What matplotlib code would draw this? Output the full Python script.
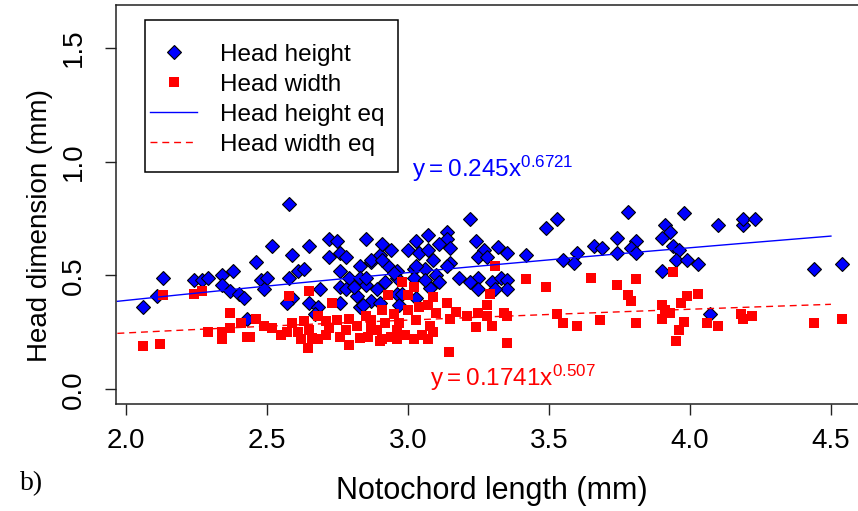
import numpy as np
import matplotlib
matplotlib.use("Agg")
import matplotlib.pyplot as plt
from matplotlib.lines import Line2D
from matplotlib.patches import Rectangle

plt.rcParams['font.family'] = ['Liberation Sans', 'DejaVu Sans']
plt.rcParams['mathtext.default'] = 'regular'

# --- data ----------------------------------------------------------------
# head height (blue diamonds)
hh_x = [2.38, 2.13, 2.24, 2.27, 2.29, 2.34, 2.34, 2.37, 2.40, 2.42, 2.11, 2.06, 2.43,
        2.58, 2.52, 2.59, 2.65, 2.72, 2.75, 2.85, 2.46, 2.48, 2.50, 2.49, 2.58, 2.61,
        2.63, 2.72, 2.76, 2.78, 2.83, 2.87, 2.90, 2.76, 2.79, 2.83, 2.76, 2.78, 2.82,
        2.85, 2.89, 2.87, 2.90, 2.69, 2.65, 2.68, 2.59, 2.57, 2.76, 2.83, 2.67, 2.87,
        2.85, 2.81, 2.84,
        3.22, 3.07, 3.14, 3.14, 3.11, 3.03, 2.94, 2.91, 3.00, 3.04, 3.07, 3.15, 3.09,
        3.15, 3.24, 3.27, 3.32, 3.35, 3.25, 3.28, 3.18, 3.25, 3.22, 3.25, 3.30, 3.33,
        3.35, 3.35, 3.31, 2.93, 2.96, 3.02, 3.06, 3.10, 3.11, 2.92, 2.96, 2.96, 3.03,
        3.08, 2.97, 2.91, 2.95, 3.02, 3.06, 3.03, 3.14, 2.98,
        3.49, 3.53, 3.42, 3.60, 3.55, 3.59,
        3.78, 3.98, 4.10, 4.19, 4.19, 4.23, 3.91, 3.93, 3.90, 3.74, 3.81, 3.66, 3.69,
        3.79, 3.74, 3.81, 3.94, 3.96, 3.95, 3.99, 4.03, 3.90, 4.44, 4.54, 4.07]
hh_y = [0.52, 0.49, 0.48, 0.48, 0.49, 0.50, 0.46, 0.43, 0.42, 0.40, 0.41, 0.36, 0.31,
        0.815, 0.63, 0.59, 0.63, 0.66, 0.65, 0.66, 0.56, 0.48, 0.49, 0.44, 0.49, 0.52,
        0.53, 0.58, 0.60, 0.58, 0.54, 0.56, 0.59, 0.52, 0.49, 0.49, 0.45, 0.44, 0.41,
        0.46, 0.44, 0.39, 0.38, 0.44, 0.38, 0.36, 0.40, 0.38, 0.38, 0.36, 0.33, 0.57,
        0.49, 0.45, 0.37,
        0.75, 0.68, 0.69, 0.66, 0.64, 0.65, 0.61, 0.64, 0.61, 0.60, 0.61, 0.62, 0.57,
        0.555, 0.65, 0.61, 0.625, 0.60, 0.58, 0.58, 0.49, 0.49, 0.47, 0.44, 0.47, 0.49,
        0.48, 0.44, 0.44, 0.54, 0.52, 0.53, 0.53, 0.50, 0.47, 0.47, 0.49, 0.42, 0.40,
        0.445, 0.37, 0.57, 0.51, 0.49, 0.48, 0.54, 0.54, 0.42,
        0.71, 0.75, 0.59, 0.60, 0.57, 0.555,
        0.78, 0.775, 0.72, 0.72, 0.75, 0.75, 0.72, 0.69, 0.665, 0.665, 0.65, 0.63, 0.62,
        0.62, 0.60, 0.60, 0.63, 0.61, 0.57, 0.57, 0.55, 0.52, 0.53, 0.55, 0.33]

# head width (red squares)
hw_x = [2.13, 2.24, 2.27, 2.37, 2.41, 2.37, 2.34, 2.29, 2.34, 2.43, 2.06, 2.12,
        2.58, 2.65, 2.73, 2.68, 2.46, 2.49, 2.52, 2.44, 2.57, 2.59, 2.63, 2.65, 2.66,
        2.68, 2.645, 2.61, 2.72, 2.75, 2.78, 2.76, 2.82, 2.85, 2.87, 2.83, 2.90, 2.89,
        2.86, 2.71, 2.79, 2.62, 2.55, 2.71, 2.79, 2.87,
        2.91, 2.93, 2.92, 2.95, 2.94, 2.96, 2.98, 3.02, 3.00, 3.09, 3.31, 3.29, 3.00,
        3.04, 3.07, 3.14, 3.17, 3.10, 3.15, 2.97, 3.03, 3.08, 2.99, 3.05, 3.09, 2.91,
        2.96, 3.02, 3.07, 3.145, 3.25, 3.28, 3.24, 3.30, 3.34, 3.35, 3.35, 3.28, 3.21,
        3.42, 3.49, 3.65, 3.53, 3.55, 3.60, 3.68,
        3.94, 3.74, 3.81, 3.78, 3.79, 4.03, 3.99, 3.97, 3.90, 3.91, 3.93, 3.90, 3.98,
        3.96, 3.95, 3.81, 4.06, 4.10, 4.18, 4.19, 4.22, 4.44, 4.54]
hw_y = [0.415, 0.42, 0.43, 0.335, 0.29, 0.27, 0.25, 0.25, 0.22, 0.23, 0.19, 0.20,
        0.41, 0.43, 0.38, 0.32, 0.31, 0.28, 0.27, 0.23, 0.25, 0.29, 0.30, 0.26, 0.225,
        0.22, 0.18, 0.25, 0.27, 0.305, 0.26, 0.23, 0.28, 0.32, 0.27, 0.225, 0.21, 0.26,
        0.23, 0.24, 0.195, 0.22, 0.24, 0.30, 0.31, 0.305,
        0.35, 0.415, 0.29, 0.33, 0.23, 0.26, 0.47, 0.45, 0.415, 0.405, 0.54, 0.42, 0.35,
        0.36, 0.37, 0.38, 0.34, 0.335, 0.31, 0.29, 0.305, 0.28, 0.24, 0.24, 0.25, 0.22,
        0.22, 0.22, 0.22, 0.165, 0.335, 0.32, 0.275, 0.28, 0.335, 0.32, 0.205, 0.37, 0.32,
        0.485, 0.45, 0.49, 0.33, 0.29, 0.28, 0.305,
        0.515, 0.46, 0.485, 0.415, 0.39, 0.42, 0.41, 0.38, 0.37, 0.35, 0.335, 0.31, 0.295,
        0.26, 0.21, 0.29, 0.29, 0.28, 0.33, 0.31, 0.32, 0.29, 0.31]

# power-law fits shown on the chart
hh_a, hh_b = 0.245, 0.6721
hw_a, hw_b = 0.1741, 0.507
fit_x = np.linspace(1.97, 4.5, 200)

# --- figure ----------------------------------------------------------------
fig = plt.figure(figsize=(8.58, 5.11), dpi=100)
ax = fig.add_axes([0.135, 0.209, 0.865, 0.781])

ax.plot(hh_x, hh_y, 'D', ms=7.0, mfc='#0000FF', mec='black', mew=0.8, ls='none')
ax.plot(hw_x, hw_y, 's', ms=7.4, mfc='#FF0000', mec='#FF0000', mew=0, ls='none')
ax.plot(fit_x, hh_a * fit_x ** hh_b, color='#0000FF', lw=1.0)
ax.plot(fit_x, hw_a * fit_x ** hw_b, color='#FF0000', lw=1.0, dashes=(5, 3.5))

ax.set_xlim(1.9645, 4.596)
ax.set_ylim(-0.066, 1.689)
ax.set_xticks([2.0, 2.5, 3.0, 3.5, 4.0, 4.5])
ax.set_xticklabels(['2.0', '2.5', '3.0', '3.5', '4.0', '4.5'])
ax.set_yticks([0.0, 0.5, 1.0, 1.5])
ax.set_yticklabels(['0.0', '0.5', '1.0', '1.5'], rotation=90, va='center')
ax.tick_params(axis='both', labelsize=20, length=8, width=1, color='#222222')
ax.tick_params(axis='x', pad=9)
ax.tick_params(axis='y', pad=13)
for s in ['left', 'top', 'bottom']:
    ax.spines[s].set_linewidth(1.1)
    ax.spines[s].set_color('#222222')
ax.spines['right'].set_visible(False)

ax.set_xlabel('Notochord length (mm)', fontsize=22)
ax.set_ylabel('Head dimension (mm)', fontsize=20)
ax.xaxis.set_label_coords(0.507, -0.18)
ax.yaxis.set_label_coords(-0.085, 0.449)

# equations
ax.text(3.014, 0.933, r'$y = 0.245x^{0.6721}$', color='#0000FF', fontsize=17.5,
        ha='left', va='baseline')
ax.text(3.078, 0.015, r'$y = 0.1741x^{0.507}$', color='#FF0000', fontsize=17.5,
        ha='left', va='baseline')

# legend
handles = [
    Line2D([], [], marker='D', ls='none', ms=7.0, mfc='#0000FF', mec='black', mew=0.8),
    Line2D([], [], marker='s', ls='none', ms=7.4, mfc='#FF0000', mec='#FF0000', mew=0),
    Line2D([], [], color='#0000FF', lw=1.0),
    Line2D([], [], color='#FF0000', lw=1.0, dashes=(5, 3.5)),
]
labels = ['Head height', 'Head width', 'Head height eq', 'Head width eq']
ax.legend(handles, labels, loc='upper left', bbox_to_anchor=(0.046, 0.903),
          borderaxespad=0, borderpad=0, frameon=False, fontsize=17.5,
          handlelength=1.95, handletextpad=0.95, labelspacing=0.33)
ax.add_patch(Rectangle((0.039, 0.582), 0.341, 0.381, transform=ax.transAxes,
                       fill=False, ec='black', lw=1.1))

fig.text(0.023, 0.04, 'b)', fontsize=20, family='Liberation Serif',
         ha='left', va='baseline')

fig.savefig('out.png', dpi=100)
